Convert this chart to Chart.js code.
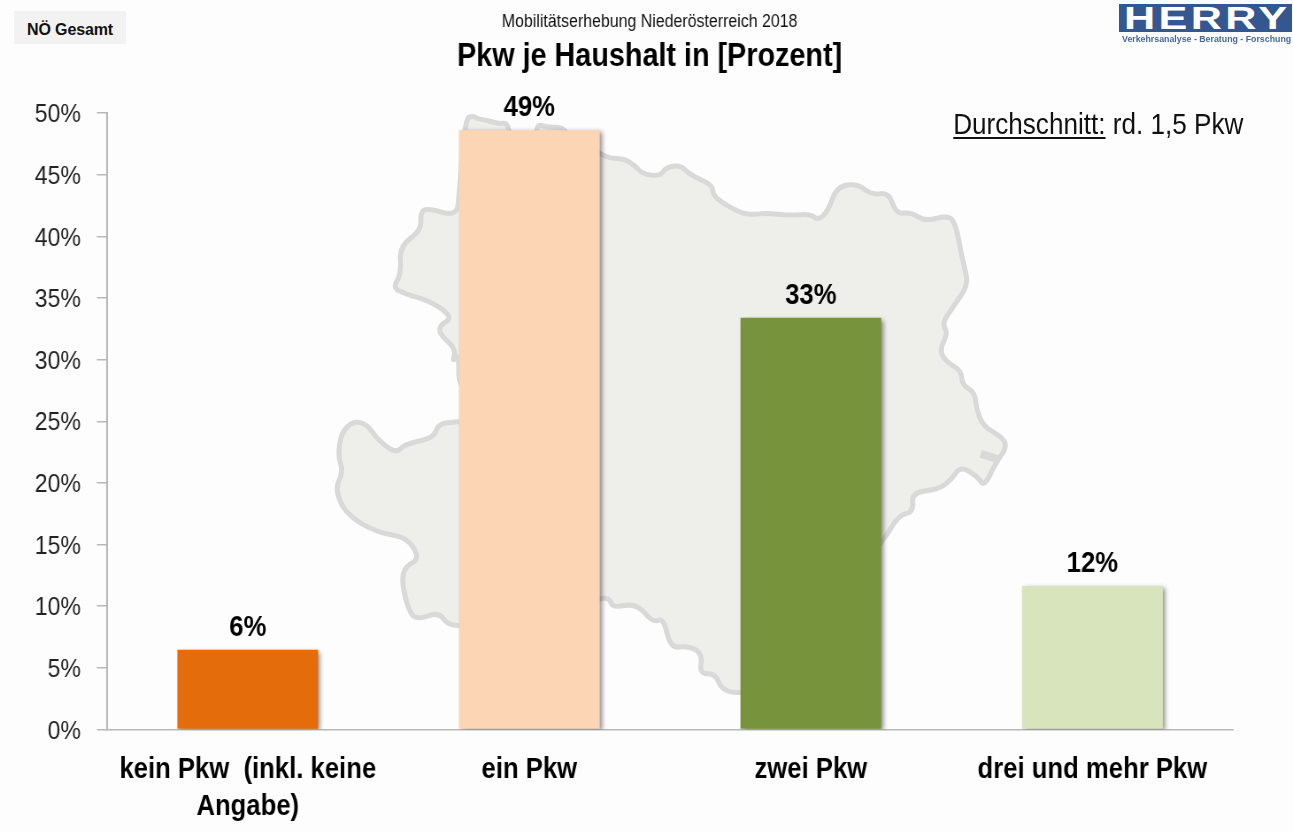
<!DOCTYPE html>
<html lang="de">
<head>
<meta charset="utf-8">
<script src="https://cdn.jsdelivr.net/npm/chart.js@4"></script>
<style>
html,body{margin:0;padding:0;background:#fdfdfd;width:1293px;height:832px;overflow:hidden;font-family:"Liberation Sans",Arial,sans-serif}
#map{position:absolute;left:320px;top:100px;width:700px;height:620px;overflow:visible}
#wrap{position:absolute;left:0;top:0;width:1468px;height:832px;transform-origin:0 0;transform:scaleX(.885)}
#chart{position:absolute;left:0;top:0}
#avg{position:absolute;left:1077px;top:105px;font-size:29.5px;line-height:38px;color:#111;white-space:pre}
#avg u{text-underline-offset:3px}
#tag{position:absolute;left:14px;top:11px;width:112px;height:33px;background:#f2f2f2;color:#111;font-weight:bold;font-size:16px;line-height:37px;text-align:center;letter-spacing:-.15px}
#logo{position:absolute;left:1119px;top:4px;width:173px;height:28px;background:#35578f;color:#fff;font-weight:bold;font-size:32px;line-height:29px;overflow:hidden;white-space:nowrap}
#logo span{display:inline-block;transform-origin:0 50%;transform:scaleX(1.35);letter-spacing:2.5px;margin-left:5px}
#claim{position:absolute;left:1122px;top:33px;color:#46689c;font-weight:bold;font-size:8.8px;line-height:12px;white-space:nowrap}
</style>
</head>
<body>
<svg id="map" viewBox="0 0 1568 1568" preserveAspectRatio="none">
<path id="mapShape" vector-effect="non-scaling-stroke" fill="#eeeeeb" stroke="#d9d9d9" stroke-width="5" stroke-linejoin="round"/>
<path vector-effect="non-scaling-stroke" fill="none" stroke="#d9d9d9" stroke-width="8" d="M1480 895 L1518 908"/>
</svg>
<div id="wrap">
<canvas id="chart" width="1468" height="832"></canvas>
<div id="avg"><u>Durchschnitt:</u> rd. 1,5 Pkw</div>
</div>
<div id="tag">NÖ Gesamt</div>
<div id="logo"><span>HERRY</span></div>
<div id="claim">Verkehrsanalyse - Beratung - Forschung</div>
<script>
const categories = [["kein Pkw  (inkl. keine", "Angabe)"], "ein Pkw", "zwei Pkw", "drei und mehr Pkw"];
const values = [6.47, 48.6, 33.4, 11.64];
const barColors = ["#e46c0a", "#fcd5b5", "#77933c", "#d8e4bc"];
const chartTitle = "Mobilitätserhebung Niederösterreich 2018";
const chartSubtitle = "Pkw je Haushalt in [Prozent]";

// Decorative backdrop outline of Lower Austria (not chart data)
const mapOutline = [[325,45],[345,40],[352,48],[370,50],[400,60],[420,58],[425,90],[485,90],[487,60],[510,70],[545,68],[560,100],[627,135],[650,148],[680,148],[705,165],[722,187],[762,193],[775,170],[808,165],[830,190],[880,215],[880,245],[940,285],[970,290],[1000,286],[1050,292],[1098,288],[1115,304],[1138,282],[1158,218],[1205,212],[1235,240],[1275,234],[1290,288],[1325,284],[1355,307],[1410,291],[1425,320],[1435,380],[1443,420],[1452,468],[1420,520],[1393,565],[1407,590],[1388,630],[1400,660],[1437,685],[1438,720],[1467,740],[1470,780],[1485,825],[1532,855],[1537,882],[1515,915],[1488,978],[1475,955],[1435,925],[1415,960],[1385,985],[1325,993],[1330,1042],[1295,1050],[1260,1120],[1000,1480],[940,1502],[900,1492],[885,1450],[850,1452],[857,1400],[825,1380],[785,1387],[770,1310],[745,1322],[710,1273],[655,1284],[650,1262],[627,1258],[400,1340],[310,1330],[285,1325],[265,1295],[220,1314],[200,1297],[183,1220],[190,1180],[224,1160],[195,1105],[130,1095],[60,1050],[33,985],[52,940],[40,900],[48,840],[75,812],[105,820],[130,860],[170,894],[190,870],[255,855],[265,818],[310,815],[350,800],[350,730],[310,728],[312,640],[296,664],[305,630],[268,592],[268,570],[298,550],[250,510],[190,490],[163,475],[182,440],[178,370],[227,330],[225,285],[240,273],[307,295],[312,235]];

(function () {
  const mid = (a, b) => [(a[0] + b[0]) / 2, (a[1] + b[1]) / 2];
  const n = mapOutline.length;
  const s = mid(mapOutline[n - 1], mapOutline[0]);
  let d = "M" + s[0] + " " + s[1];
  for (let i = 0; i < n; i++) {
    const p = mapOutline[i], m = mid(p, mapOutline[(i + 1) % n]);
    d += " Q" + p[0] + " " + p[1] + " " + m[0] + " " + m[1];
  }
  document.getElementById("mapShape").setAttribute("d", d + " Z");
})();

const FONT = '"Liberation Sans", Arial, sans-serif';
const S = 0.885;

const barExtras = {
  id: "barExtras",
  beforeDatasetDraw(chart) {
    const c = chart.ctx;
    c.save();
    c.shadowColor = "rgba(0,0,0,.42)";
    c.shadowBlur = 5;
    c.shadowOffsetX = 3;
    c.shadowOffsetY = 2;
  },
  afterDatasetDraw(chart) {
    chart.ctx.restore();
  },
  afterDatasetsDraw(chart) {
    const c = chart.ctx, meta = chart.getDatasetMeta(0);
    c.save();
    c.font = "bold 29px " + FONT;
    c.fillStyle = "#000";
    c.textAlign = "center";
    c.textBaseline = "alphabetic";
    meta.data.forEach((bar, i) => {
      c.fillText(Math.round(values[i]) + "%", bar.x, bar.y - 14);
    });
    c.restore();
  }
};

new Chart(document.getElementById("chart"), {
  type: "bar",
  data: {
    labels: categories,
    datasets: [{ data: values, backgroundColor: barColors, borderWidth: 0, yAxisID: "y",
                 categoryPercentage: 1, barPercentage: 0.5 }]
  },
  plugins: [barExtras],
  options: {
    responsive: false,
    animation: false,
    layout: { padding: 0 },
    plugins: {
      legend: { display: false },
      tooltip: { enabled: false },
      title: { display: true, text: chartTitle, color: "#111",
               font: { family: FONT, size: 18, weight: "normal", lineHeight: 1.2 },
               padding: { top: 11, bottom: 5 } },
      subtitle: { display: true, text: chartSubtitle, color: "#000",
                  font: { family: FONT, size: 32.5, weight: "bold", lineHeight: 1.2 },
                  padding: { top: 0, bottom: 36.5 } }
    },
    scales: {
      x: {
        afterFit(s) { s.height = 102.5; },
        grid: { display: false },
        border: { display: true, color: "#b8b8b8", width: 1.5 },
        ticks: { color: "#000", padding: 14, maxRotation: 0, minRotation: 0, autoSkip: false,
                 font: { family: FONT, size: 29, weight: "bold", lineHeight: 1.28 } }
      },
      y: {
        min: 0, max: 50,
        afterFit(s) { s.width = 107 / S; },
        grid: { drawOnChartArea: false, drawTicks: true, tickLength: 11.5, color: "#b8b8b8", lineWidth: 1.5 },
        border: { display: true, color: "#b8b8b8", width: 2 },
        ticks: { stepSize: 5, color: "#222", padding: 18, labelOffset: 2,
                 font: { family: FONT, size: 26 },
                 callback: v => v + "%" }
      },
      rightGap: {
        type: "linear", axis: "y", position: "right", min: 0, max: 50,
        afterFit(s) { s.width = 74.6; },
        grid: { display: false },
        border: { display: false },
        ticks: { display: false }
      }
    }
  }
});
</script>
</body>
</html>
